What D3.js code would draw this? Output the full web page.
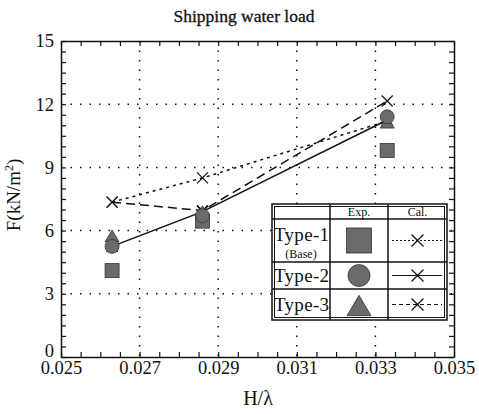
<!DOCTYPE html>
<html>
<head>
<meta charset="utf-8">
<script src="https://cdn.jsdelivr.net/npm/d3@7"></script>
<style>
  body { margin: 0; background: #fff; }
  text { font-family: "Liberation Serif", "DejaVu Serif", serif; fill: #111; }
</style>
</head>
<body>
<div id="chart"></div>
<script>
// H/lambda positions of the three test cases
var hl = [0.0263, 0.0286, 0.0333]

// experiment
var exp1 = [4.1, 6.45, 9.8]
var exp2 = [5.25, 6.7, 11.4]
var exp3 = [5.75, 6.9, 11.15]

// calculation
var cal1 = [7.35, 8.5, 11.2]
var cal2 = [5.25, 6.9, 11.25]
var cal3 = [7.35, 6.95, 12.15]

var xTicks = [0.025, 0.027, 0.029, 0.031, 0.033, 0.035]
var yTicks = [0, 3, 6, 9, 12, 15]
var legendRows = ["Type-1", "Type-2", "Type-3"]

var width = 479
var height = 414
var padLeft = 61, padRight = 454, padTop = 41, padBottom = 357

var svg = d3.select("#chart").append("svg")
  .attr("width", width)
  .attr("height", height)

var x = d3.scaleLinear().domain([0.025, 0.035]).range([padLeft, padRight])
var y = d3.scaleLinear().domain([0, 15]).range([padBottom, padTop])

var ink = "#111"
var gray = "#6a6a6a"

// dotted grid
svg.append("g").selectAll("line")
  .data(xTicks.slice(1, -1))
  .enter().append("line")
  .attr("x1", function(d) { return x(d) }).attr("x2", function(d) { return x(d) })
  .attr("y1", padTop).attr("y2", padBottom)
  .attr("stroke", ink).attr("stroke-width", 1.5).attr("stroke-dasharray", "1.5,8")
svg.append("g").selectAll("line")
  .data(yTicks.slice(1, -1))
  .enter().append("line")
  .attr("y1", function(d) { return y(d) }).attr("y2", function(d) { return y(d) })
  .attr("x1", padLeft).attr("x2", padRight)
  .attr("stroke", ink).attr("stroke-width", 1.5).attr("stroke-dasharray", "1.5,8")

// axes, ticks pointing inward
var xMinor = d3.range(0, 21).map(function(i) { return 0.025 + i * 0.0005 })
var yMinor = d3.range(0, 31).map(function(i) { return i * 0.5 })

function styleAxis(g) {
  g.select(".domain").attr("stroke", ink).attr("stroke-width", 1.5)
  g.selectAll(".tick line").attr("stroke", ink).attr("stroke-width", 1.2)
  g.selectAll("text").attr("font-size", 18.5).attr("fill", ink)
    .attr("font-family", "Liberation Serif, serif")
}

svg.append("g")
  .attr("transform", "translate(0," + padBottom + ")")
  .call(d3.axisBottom(x).tickValues(xMinor).tickSizeInner(-5).tickSizeOuter(0)
    .tickPadding(4)
    .tickFormat(function(d, i) { return i % 4 === 0 ? d3.format(".3f")(d) : "" }))
  .call(styleAxis)
svg.append("g")
  .attr("transform", "translate(0," + padTop + ")")
  .call(d3.axisTop(x).tickValues(xMinor).tickSizeInner(-5).tickSizeOuter(0).tickFormat(""))
  .call(styleAxis)
svg.append("g")
  .attr("transform", "translate(" + padLeft + ",0)")
  .call(d3.axisLeft(y).tickValues(yMinor).tickSizeInner(-5).tickSizeOuter(0)
    .tickPadding(7)
    .tickFormat(function(d) { return yTicks.indexOf(d) >= 0 ? d : "" }))
  .call(styleAxis)
  .call(function(g) { g.selectAll("text").filter(function(d) { return d === 0 }).attr("dy", "-0.05em") })
svg.append("g")
  .attr("transform", "translate(" + padRight + ",0)")
  .call(d3.axisRight(y).tickValues(yMinor).tickSizeInner(-5).tickSizeOuter(0).tickFormat(""))
  .call(styleAxis)

// calculated lines
var calSeries = [
  { vals: cal1, dash: "3,4" },
  { vals: cal2, dash: null },
  { vals: cal3, dash: "9,5" }
]
var line = d3.line()
  .x(function(d) { return x(d[0]) })
  .y(function(d) { return y(d[1]) })

function cross(g, cx, cy, r) {
  g.append("path")
    .attr("d", "M" + (cx - r) + "," + (cy - r) + "L" + (cx + r) + "," + (cy + r) +
      "M" + (cx - r) + "," + (cy + r) + "L" + (cx + r) + "," + (cy - r))
    .attr("stroke", ink).attr("stroke-width", 1.2).attr("fill", "none")
}

calSeries.forEach(function(s) {
  var pts = d3.zip(hl, s.vals)
  svg.append("path")
    .attr("d", line(pts))
    .attr("fill", "none").attr("stroke", ink).attr("stroke-width", 1.5)
    .attr("stroke-dasharray", s.dash)
  pts.forEach(function(p) { cross(svg, x(p[0]), y(p[1]), 5.5) })
})

// experiment markers
function square(g, cx, cy, s) {
  g.append("rect").attr("x", cx - s / 2).attr("y", cy - s / 2)
    .attr("width", s).attr("height", s)
    .attr("fill", gray).attr("stroke", "#333").attr("stroke-width", 0.8)
}
function circle(g, cx, cy, s) {
  g.append("circle").attr("cx", cx).attr("cy", cy).attr("r", s / 2)
    .attr("fill", gray).attr("stroke", "#333").attr("stroke-width", 0.8)
}
function triangle(g, cx, cy, s) {
  var h = s * 0.85
  g.append("path")
    .attr("d", "M" + cx + "," + (cy - h / 2) + "L" + (cx + s / 2) + "," + (cy + h / 2) +
      "L" + (cx - s / 2) + "," + (cy + h / 2) + "Z")
    .attr("fill", gray).attr("stroke", "#333").attr("stroke-width", 0.8)
}

hl.forEach(function(h, i) { square(svg, x(h), y(exp1[i]), 14) })
hl.forEach(function(h, i) { triangle(svg, x(h), y(exp3[i]), 14) })
hl.forEach(function(h, i) { circle(svg, x(h), y(exp2[i]), 14) })

// title and axis labels
svg.append("text")
  .attr("x", 244).attr("y", 22)
  .attr("text-anchor", "middle")
  .attr("font-size", 17.5)
  .attr("stroke", "#111").attr("stroke-width", 0.3)
  .text("Shipping water load")

svg.append("text")
  .attr("x", 258).attr("y", 405)
  .attr("text-anchor", "middle")
  .attr("font-size", 20)
  .text("H/λ")

var yl = svg.append("text")
  .attr("transform", "translate(20,195) rotate(-90)")
  .attr("text-anchor", "middle")
  .attr("font-size", 19)
yl.append("tspan").text("F(kN/m")
yl.append("tspan").attr("font-size", 12).attr("dy", -7).text("2")
yl.append("tspan").attr("dy", 7).text(")")

// legend table
var cols = [272, 330, 388, 447]
var rows = [204, 219, 262, 289, 320]
var leg = svg.append("g")

leg.append("rect")
  .attr("x", cols[0]).attr("y", rows[0])
  .attr("width", cols[3] - cols[0]).attr("height", rows[4] - rows[0])
  .attr("fill", "#fff").attr("stroke", ink).attr("stroke-width", 1.5)
leg.append("rect")
  .attr("x", cols[0] + 2.5).attr("y", rows[0] + 2.5)
  .attr("width", cols[3] - cols[0] - 5).attr("height", rows[4] - rows[0] - 5)
  .attr("fill", "none").attr("stroke", ink).attr("stroke-width", 1)

rows.slice(1, -1).forEach(function(r) {
  leg.append("line").attr("x1", cols[0]).attr("x2", cols[3])
    .attr("y1", r).attr("y2", r).attr("stroke", ink).attr("stroke-width", 1.5)
})
cols.slice(1, -1).forEach(function(c) {
  leg.append("line").attr("x1", c).attr("x2", c)
    .attr("y1", rows[0]).attr("y2", rows[4]).attr("stroke", ink).attr("stroke-width", 1.5)
})

leg.append("text").attr("x", (cols[1] + cols[2]) / 2).attr("y", rows[1] - 3)
  .attr("text-anchor", "middle").attr("font-size", 12)
  .attr("font-family", "Liberation Mono, monospace").text("Exp.")
leg.append("text").attr("x", (cols[2] + cols[3]) / 2).attr("y", rows[1] - 3)
  .attr("text-anchor", "middle").attr("font-size", 12)
  .attr("font-family", "Liberation Mono, monospace").text("Cal.")

var labelY = [rows[1] + 22, rows[2] + 20, rows[3] + 22]
legendRows.forEach(function(name, i) {
  leg.append("text").attr("x", cols[0] + 2).attr("y", labelY[i])
    .attr("font-size", 19).attr("textLength", 55).text(name)
})
leg.append("text").attr("x", (cols[0] + cols[1]) / 2).attr("y", rows[2] - 4)
  .attr("text-anchor", "middle").attr("font-size", 12).text("(Base)")

var mx = (cols[1] + cols[2]) / 2
square(leg, mx, (rows[1] + rows[2]) / 2, 25)
circle(leg, mx, (rows[2] + rows[3]) / 2, 22)
triangle(leg, mx, (rows[3] + rows[4]) / 2 + 1, 24)

var cx = (cols[2] + cols[3]) / 2
calSeries.forEach(function(s, i) {
  var cy = (rows[i + 1] + rows[i + 2]) / 2
  leg.append("line").attr("x1", cols[2] + 4).attr("x2", cols[3] - 5)
    .attr("y1", cy).attr("y2", cy)
    .attr("stroke", ink).attr("stroke-width", 1.2)
    .attr("stroke-dasharray", i === 0 ? "2,2" : (i === 2 ? "4,3" : null))
  cross(leg, cx, cy, 6)
})
</script>
</body>
</html>
